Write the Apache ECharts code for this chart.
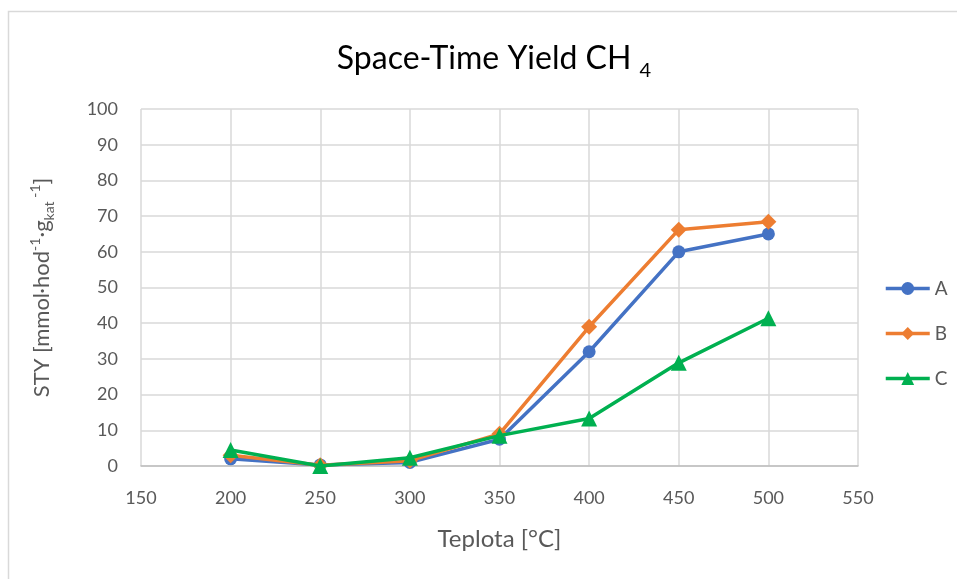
<!DOCTYPE html>
<html>
<head>
<meta charset="utf-8">
<script src="https://cdn.jsdelivr.net/npm/echarts@6/dist/echarts.min.js"></script>
<style>
  html, body { margin: 0; padding: 0; background: #fff; }
  #chart { width: 957px; height: 579px; }
</style>
</head>
<body>
<div id="chart"></div>
<script>
// Temperature steps (°C) and space-time yield of CH4 for three catalysts
const temperatures = [200, 250, 300, 350, 400, 450, 500];
const seriesA = [2, 0.3, 1, 7.5, 32, 60, 65];
const seriesB = [3, 0.2, 1.5, 9, 39, 66.2, 68.4];
const seriesC = [4.5, 0, 2.3, 8.5, 13.3, 28.9, 41.4];
const seriesNames = ['A', 'B', 'C'];
const seriesColors = ['#4472C4', '#ED7D31', '#00B050'];
const seriesSymbols = ['circle', 'diamond', 'triangle'];
const symbolSizes = [13, 16, 16];

const FONT = 'Lato';
const TEXT_GREY = '#595959';
const GRID_GREY = '#d9d9d9';

function pairs(values) {
  return temperatures.map((t, i) => [t, values[i]]);
}

const chart = echarts.init(document.getElementById('chart'), null, { renderer: 'canvas' });

chart.setOption({
  backgroundColor: '#fff',
  animation: false,
  textStyle: { fontFamily: FONT },
  graphic: [{
    type: 'rect',
    shape: { x: 8.5, y: 11.5, width: 1000, height: 620 },
    style: { fill: 'none', stroke: GRID_GREY, lineWidth: 1.5 },
    silent: true,
    z: -10
  }],
  title: {
    text: '{m|Space-Time Yield CH }{s|4}',
    left: 489,
    top: 32,
    textAlign: 'center',
    textStyle: {
      fontWeight: 'normal',
      rich: {
        m: { fontFamily: FONT, fontSize: 32, fontWeight: 'normal', color: '#000', lineHeight: 38, verticalAlign: 'bottom' },
        s: { fontFamily: FONT, fontSize: 20, fontWeight: 'normal', color: '#000', lineHeight: 20, verticalAlign: 'bottom', padding: [0, 0, -6, 0] }
      }
    }
  },
  legend: {
    orient: 'vertical',
    left: 879,
    top: 274,
    itemGap: 26,
    itemWidth: 44,
    itemHeight: 16,
    lineStyle: { width: 3.5 },
    textStyle: { fontFamily: FONT, fontSize: 19, color: TEXT_GREY },
    data: seriesNames
  },
  grid: { left: 141, right: 99, top: 109, bottom: 113, containLabel: false },
  xAxis: {
    type: 'value',
    min: 150,
    max: 550,
    interval: 50,
    name: 'Teplota [°C]',
    nameLocation: 'middle',
    nameGap: 61,
    nameTextStyle: { fontFamily: FONT, fontSize: 24, color: TEXT_GREY, verticalAlign: 'top' },
    axisLine: { show: true, lineStyle: { color: '#bfbfbf', width: 1.5 } },
    axisTick: { show: false },
    axisLabel: { fontFamily: FONT, fontSize: 18, color: TEXT_GREY, margin: 23 },
    splitLine: { show: true, lineStyle: { color: GRID_GREY, width: 1.5 } }
  },
  yAxis: {
    type: 'value',
    min: 0,
    max: 100,
    interval: 10,
    name: '{t|STY [mmol·hod}{sup|-1}{t|·g}{sub|kat}{sup| -1}{t|]}',
    nameLocation: 'middle',
    nameGap: 85,
    nameRotate: 90,
    nameTextStyle: {
      rich: {
        t: { fontFamily: FONT, fontSize: 22, color: TEXT_GREY, lineHeight: 28, verticalAlign: 'middle' },
        sup: { fontFamily: FONT, fontSize: 14, color: TEXT_GREY, lineHeight: 14, verticalAlign: 'top' },
        sub: { fontFamily: FONT, fontSize: 14, color: TEXT_GREY, lineHeight: 14, verticalAlign: 'bottom' }
      }
    },
    axisLine: { show: false },
    axisTick: { show: false },
    axisLabel: { fontFamily: FONT, fontSize: 18, color: TEXT_GREY, margin: 23 },
    splitLine: { show: true, lineStyle: { color: GRID_GREY, width: 1.5 } }
  },
  series: [seriesA, seriesB, seriesC].map((vals, i) => ({
    name: seriesNames[i],
    type: 'line',
    data: pairs(vals),
    color: seriesColors[i],
    symbol: seriesSymbols[i],
    symbolSize: symbolSizes[i],
    lineStyle: { width: 3.5, color: seriesColors[i] },
    itemStyle: { color: seriesColors[i] },
    z: 2 + i
  }))
});
</script>
</body>
</html>
